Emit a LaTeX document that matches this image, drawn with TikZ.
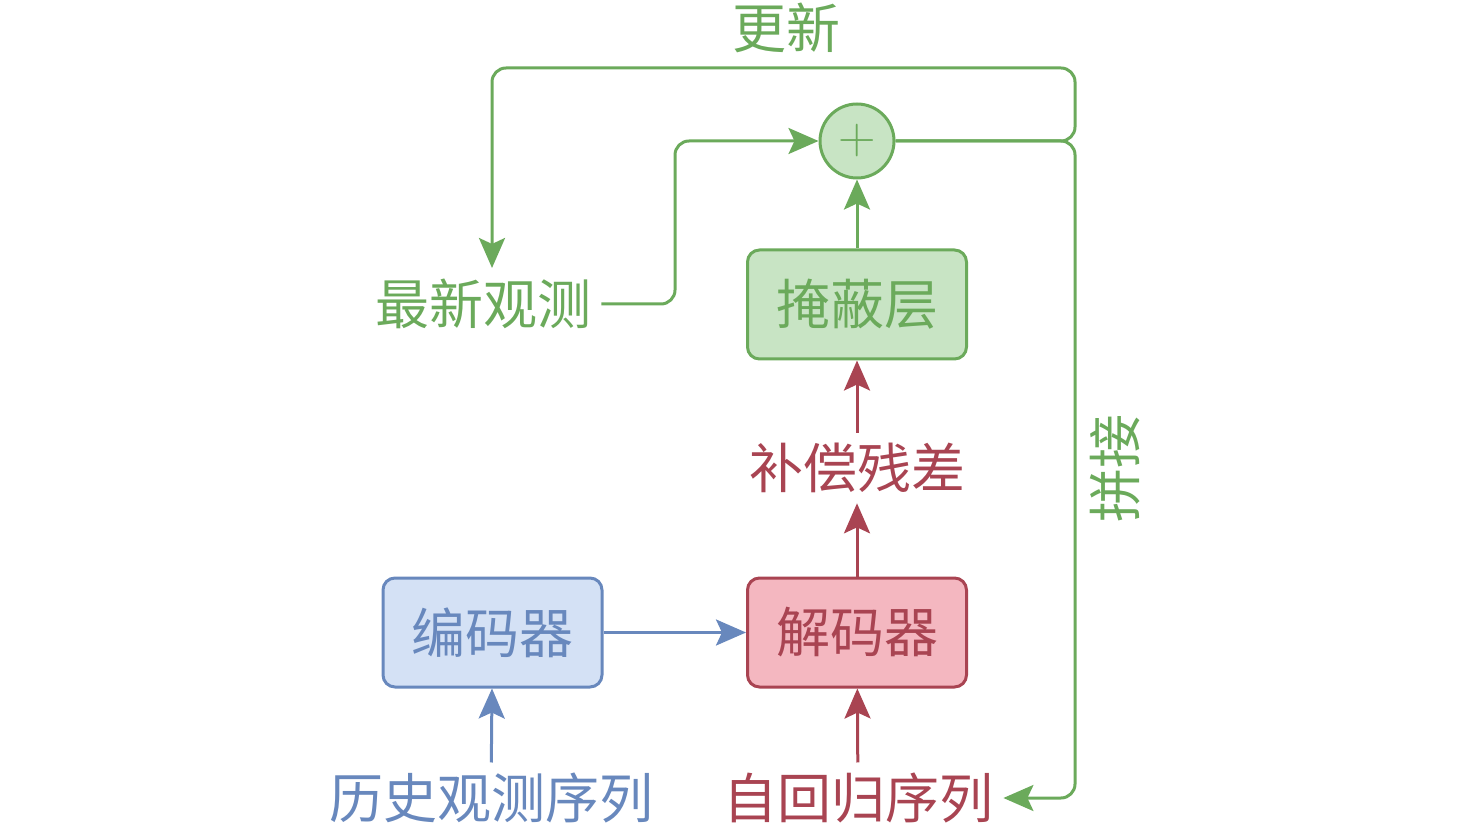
\documentclass[tikz,border=0pt]{standalone}
\usepackage{fontspec}
\newfontfamily\cjk{Noto Sans CJK SC}
\usetikzlibrary{arrows.meta}
\definecolor{gline}{HTML}{6BAA5B}
\definecolor{gfill}{HTML}{C8E4C4}
\definecolor{bline}{HTML}{6888BD}
\definecolor{bfill}{HTML}{D4E1F5}
\definecolor{rline}{HTML}{A94452}
\definecolor{rfill}{HTML}{F4B7C0}
\tikzset{
  lbl/.style={font=\cjk\fontsize{27}{27}\selectfont, inner sep=5pt},
  boxnode/.style={draw, line width=1.5pt, rounded corners=6pt, minimum width=109.5pt, minimum height=54.5pt, font=\cjk\fontsize{27}{27}\selectfont, inner sep=0pt},
  conn/.style={line width=1.5pt, -{Stealth[length=15pt,width=13pt,inset=3pt]}},
}
\begin{document}
\begin{tikzpicture}[x=0.5pt,y=-0.5pt]
\useasboundingbox (0,0) rectangle (1476,833);
% boxes
\node[boxnode, draw=bline, fill=bfill, text=bline] (enc) at (492.5,632.5) {编码器};
\node[boxnode, draw=rline, fill=rfill, text=rline] (dec) at (857,632.5) {解码器};
\node[boxnode, draw=gline, fill=gfill, text=gline] (mask) at (857,304.5) {掩蔽层};
\node[circle, draw=gline, fill=gfill, line width=1.5pt, minimum size=37pt, inner sep=0pt, text=gline, font=\fontsize{26}{26}\selectfont] (plus) at (857,141) {+};
% labels
\node[lbl, text=bline] (hist) at (491,798) {历史观测序列};
\node[lbl, text=rline] (auto) at (858,798) {自回归序列};
\node[lbl, text=rline] (res) at (857,468) {补偿残差};
\node[lbl, text=gline] (newest) at (483,304) {最新观测};
\node[lbl, text=gline] (upd) at (786,28) {更新};
\node[lbl, text=gline, rotate=90] (cat) at (1115,468) {拼接};
\coordinate (upddrop) at (492,268);
% connectors
\draw[conn, draw=bline, bline] (hist) -- (enc);
\draw[conn, draw=bline, bline] (enc) -- (dec);
\draw[conn, draw=rline, rline] (auto) -- (dec);
\draw[conn, draw=rline, rline] (dec) -- (res);
\draw[conn, draw=rline, rline] (res) -- (mask);
\draw[conn, draw=gline, gline] (mask) -- (plus);
\draw[conn, draw=gline, gline, rounded corners=7pt] (newest.east) -- (675,304) |- (plus.west);
\draw[conn, draw=gline, gline, rounded corners=7pt] (plus.east) -- (1075,141) |- (auto.east);
\draw[conn, draw=gline, gline, rounded corners=7pt] (plus.east) -- (1075,141) -- (1075,68) -| (upddrop);
\end{tikzpicture}
\end{document}
